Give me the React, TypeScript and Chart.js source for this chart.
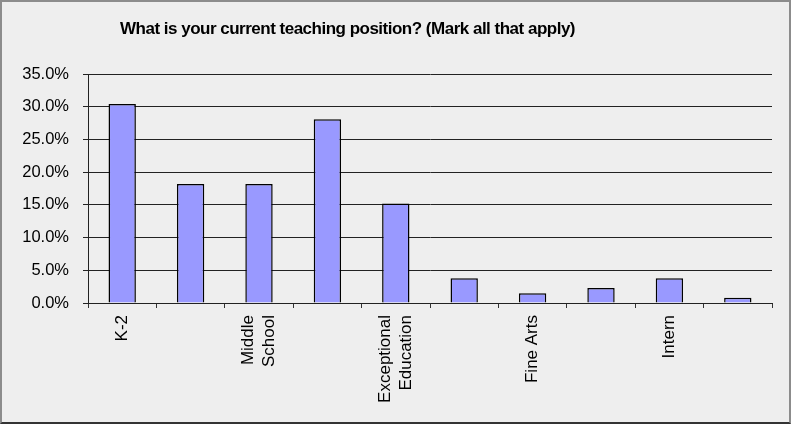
import React, { useEffect, useRef } from 'react';
import { Chart, registerables } from 'chart.js';

Chart.register(...registerables);

const chartTitle = 'What is your current teaching position? (Mark all that apply)';
const categories: (string | string[])[] = [
  'K-2',
  '',
  ['Middle', 'School'],
  '',
  ['Exceptional', 'Education'],
  '',
  'Fine Arts',
  '',
  'Intern',
  '',
];
const shares = [30.4, 18.2, 18.2, 28.1, 15.2, 3.8, 1.5, 2.3, 3.8, 0.8];
const yMin = 0;
const yMax = 35;
const yStep = 5;

const FONT = '"Liberation Sans", Arial, Helvetica, sans-serif';

export default function App() {
  const ref = useRef<HTMLCanvasElement>(null);

  useEffect(() => {
    if (!ref.current) return;
    const titlePlugin = {
      id: 'fixedTitle',
      afterDraw(chart: any) {
        const ctx = chart.ctx;
        ctx.save();
        ctx.font = `bold 17px ${FONT}`;
        try {
          (ctx as any).letterSpacing = '-0.5px';
        } catch (e) {}
        ctx.fillStyle = '#000';
        ctx.textAlign = 'center';
        ctx.textBaseline = 'alphabetic';
        ctx.fillText(chartTitle, 345.5, 32);
        ctx.restore();
      },
    };
    // center multi-line rotated tick labels on their tick
    const centerLabels = {
      id: 'centerLabels',
      beforeDraw(chart: any) {
        const s = chart.scales.x;
        const items = s.getLabelItems();
        items.forEach((it: any) => {
          if (it._centered) return;
          it._centered = true;
          const n = Array.isArray(it.label) ? it.label.length : 1;
          if (n > 1) {
            const lh = it.font.lineHeight;
            it.textOffset -= ((n - 1) * lh) / 2;
          }
        });
      },
    };
    const chart = new Chart(ref.current, {
      type: 'bar',
      data: {
        labels: categories,
        datasets: [
          {
            data: shares,
            backgroundColor: '#9999ff',
            borderColor: '#000',
            borderWidth: 1.5,
            barPercentage: 0.4,
            categoryPercentage: 1,
          },
        ],
      },
      options: {
        responsive: false,
        animation: false,
        layout: { padding: { top: 72, right: 17, left: 0, bottom: 0 } },
        plugins: {
          legend: { display: false },
          tooltip: { enabled: false },
          title: { display: false },
        },
        scales: {
          x: {
            grid: { offset: true, drawOnChartArea: false, tickLength: 5, color: '#333' },
            border: { color: '#222', width: 1 },
            ticks: {
              minRotation: 90,
              maxRotation: 90,
              autoSkip: false,
              padding: 7,
              color: '#000',
              font: { family: FONT, size: 17 },
            },
            afterFit(s: any) {
              s.height = 119;
            },
          },
          y: {
            min: yMin,
            max: yMax,
            ticks: {
              stepSize: yStep,
              padding: 14,
              color: '#000',
              font: { family: FONT, size: 16.5 },
              callback: (v: any) => Number(v).toFixed(1) + '%',
            },
            grid: { color: '#222', tickLength: 5 },
            border: { color: '#222', width: 1 },
            afterFit(s: any) {
              s.width = 86;
            },
          },
        },
      },
      plugins: [titlePlugin, centerLabels],
    });
    return () => chart.destroy();
  }, []);

  return (
    <div
      style={{
        position: 'absolute',
        left: 0,
        top: 0,
        width: 791,
        height: 424,
        boxSizing: 'border-box',
        border: '2px solid #8c8c8c',
        borderBottomColor: '#333',
        background: '#eeeeee',
      }}
    >
      <canvas ref={ref} width={787} height={420} style={{ display: 'block' }} />
    </div>
  );
}
